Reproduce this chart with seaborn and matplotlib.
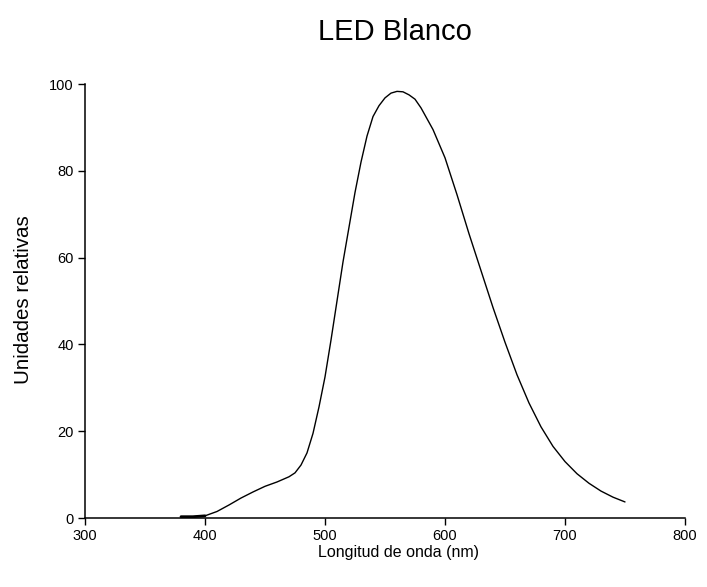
import matplotlib
matplotlib.use("Agg")
import matplotlib.pyplot as plt
import seaborn as sns
import pandas as pd

# Emission spectrum of a white LED (relative units)
wavelength = [380, 390, 400, 410, 420, 430, 440, 450, 460, 465, 470, 475, 480, 485,
              490, 495, 500, 505, 510, 515, 520, 525, 530, 535, 540, 545, 550,
              555, 560, 565, 570, 575, 580, 590, 600, 610, 620, 630, 640, 650,
              660, 670, 680, 690, 700, 710, 720, 730, 740, 750]
intensity = [0.3, 0.3, 0.5, 1.5, 3.0, 4.6, 6.0, 7.3, 8.3, 8.9, 9.5, 10.4, 12.2, 15.0,
             19.5, 25.6, 32.5, 41.0, 50.0, 59.0, 67.0, 75.0, 82.0, 88.0, 92.5, 95.0, 96.8,
             97.9, 98.3, 98.2, 97.5, 96.5, 94.5, 89.5, 83.0, 74.5, 65.5, 57.0, 48.5, 40.5,
             33.0, 26.5, 21.0, 16.5, 13.0, 10.2, 8.0, 6.2, 4.8, 3.7]

x_ticks = [300, 400, 500, 600, 700, 800]
y_ticks = [0, 20, 40, 60, 80, 100]

title = "LED Blanco"
x_label = "Longitud de onda (nm)"
y_label = "Unidades relativas"

sns.set_style("ticks")
plt.rcParams["font.family"] = ["Liberation Sans", "DejaVu Sans"]
plt.rcParams["text.color"] = "black"

df = pd.DataFrame({"nm": wavelength, "rel": intensity})

W, H = 707, 587
fig = plt.figure(figsize=(W / 100, H / 100), dpi=100)
ax = fig.add_axes([85 / W, 1 - 518 / H, 600 / W, 434 / H])

sns.lineplot(data=df, x="nm", y="rel", ax=ax, color="black", linewidth=1.0)
# baseline segment before the emission starts
sns.lineplot(data=df[df["nm"] <= 400], x="nm", y="rel", ax=ax,
             color="black", linewidth=2.0)

ax.set_xlim(300, 800)
ax.set_ylim(0, 100)
ax.set_xticks(x_ticks)
ax.set_yticks(y_ticks)
ax.tick_params(axis="both", direction="out", length=5, width=1.0,
               labelsize=10.5, colors="black", pad=3)
for side in ("top", "right"):
    ax.spines[side].set_visible(False)
for side in ("left", "bottom"):
    ax.spines[side].set_linewidth(1.1)
    ax.spines[side].set_color("black")
ax.set_xlabel("")
ax.set_ylabel("")

fig.text(395 / W, 1 - 32 / H, title, ha="center", va="center",
         fontsize=21, color="black")
fig.text(398 / W, 1 - 552 / H, x_label, ha="center", va="center",
         fontsize=11.5, color="black")
fig.text(24 / W, 1 - 300 / H, y_label, ha="center", va="center",
         rotation=90, fontsize=14.8, color="black")

fig.savefig("out.png", dpi=100)
